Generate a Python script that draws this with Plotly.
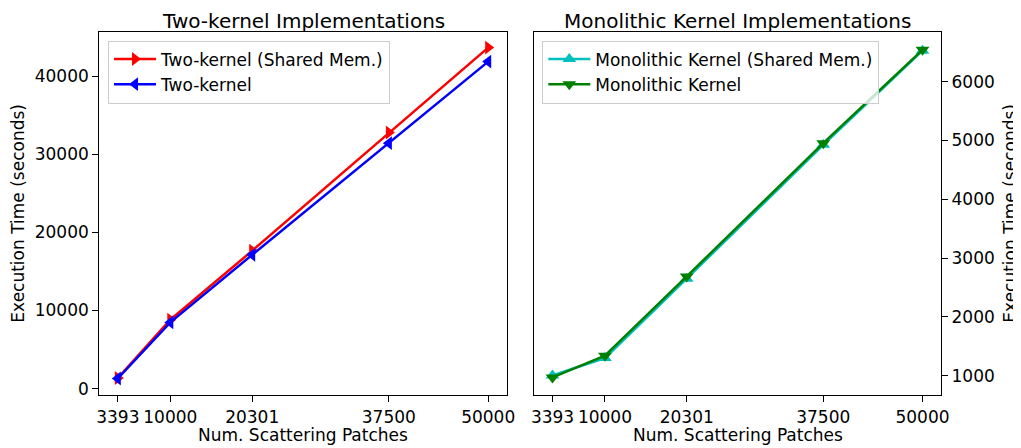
import plotly.graph_objects as go

patches = [3393, 10000, 20301, 37500, 50000]
tick_labels = ["3393", "10000", "20301", "37500", "50000"]

two_kernel_shared = [1370, 8820, 17650, 32780, 43650]
two_kernel = [1300, 8480, 17130, 31420, 41860]

mono_shared = [1005, 1300, 2650, 4925, 6525]
mono = [970, 1340, 2687, 4953, 6540]

FONT = "DejaVu Sans"
OFF = 8  # page body margin
W, H = 1021 - OFF, 448 - OFF
FS = 17

def px_x(p):
    return (p - OFF) / W

def px_y(p):
    return 1 - (p - OFF) / H

fig = go.Figure()

fig.add_trace(go.Scatter(
    x=patches, y=two_kernel_shared, name="Two-kernel (Shared Mem.)",
    mode="lines+markers", line=dict(color="#ff0000", width=2.5),
    marker=dict(symbol="triangle-right", size=12, color="#ff0000"),
    xaxis="x", yaxis="y", legend="legend"))
fig.add_trace(go.Scatter(
    x=patches, y=two_kernel, name="Two-kernel",
    mode="lines+markers", line=dict(color="#0000ff", width=2.5),
    marker=dict(symbol="triangle-left", size=12, color="#0000ff"),
    xaxis="x", yaxis="y", legend="legend"))
fig.add_trace(go.Scatter(
    x=patches, y=mono_shared, name="Monolithic Kernel (Shared Mem.)",
    mode="lines+markers", line=dict(color="#00bfbf", width=2.5),
    marker=dict(symbol="triangle-up", size=12, color="#00bfbf"),
    xaxis="x2", yaxis="y2", legend="legend2"))
fig.add_trace(go.Scatter(
    x=patches, y=mono, name="Monolithic Kernel",
    mode="lines+markers", line=dict(color="#008000", width=2.5),
    marker=dict(symbol="triangle-down", size=12, color="#008000"),
    xaxis="x2", yaxis="y2", legend="legend2"))

axis_common = dict(
    showline=True, linecolor="black", linewidth=1.2, mirror=True,
    ticks="outside", ticklen=6, tickwidth=1.2, tickcolor="black",
    showgrid=False, zeroline=False, automargin=False,
    tickfont=dict(family=FONT, size=FS, color="black"),
)

xdom1 = [px_x(99.3), px_x(506.7)]
xdom2 = [px_x(534), px_x(941)]
ydom = [px_y(395), px_y(32.3)]
ymid = (ydom[0] + ydom[1]) / 2

def text_ann(text, x, y, size=FS, angle=0, yanchor="middle"):
    return dict(text=text, x=x, y=y, xref="paper", yref="paper",
                showarrow=False, xanchor="center", yanchor=yanchor,
                textangle=angle, borderpad=0,
                font=dict(family=FONT, size=size, color="black"))

legend_common = dict(
    xanchor="left", yanchor="top",
    bgcolor="rgba(255,255,255,0.8)", bordercolor="#cccccc",
    borderwidth=1, font=dict(family=FONT, size=FS),
    itemwidth=42, tracegroupgap=0,
)

fig.update_layout(
    width=W, height=H,
    margin=dict(l=0, r=0, t=0, b=0),
    paper_bgcolor="white", plot_bgcolor="white",
    font=dict(family=FONT, size=FS, color="black"),
    showlegend=True,
    xaxis=dict(axis_common, domain=xdom1, range=[1063, 52330],
               tickvals=patches, ticktext=tick_labels, anchor="y"),
    yaxis=dict(axis_common, domain=ydom, range=[-810, 45610],
               tickvals=[0, 10000, 20000, 30000, 40000], tickformat="d",
               anchor="x"),
    xaxis2=dict(axis_common, domain=xdom2, range=[1063, 52330],
                tickvals=patches, ticktext=tick_labels, anchor="y2"),
    yaxis2=dict(axis_common, domain=ydom, range=[672, 6838],
                tickvals=[1000, 2000, 3000, 4000, 5000, 6000], tickformat="d",
                side="right", anchor="x2"),
    legend=dict(legend_common, x=px_x(108), y=px_y(40.5)),
    legend2=dict(legend_common, x=px_x(542.3), y=px_y(40.5)),
    annotations=[
        text_ann("Two-kernel Implementations", (xdom1[0] + xdom1[1]) / 2, 1.0, 20, yanchor="top"),
        text_ann("Monolithic Kernel Implementations", (xdom2[0] + xdom2[1]) / 2, 1.0, 20, yanchor="top"),
        text_ann("Num. Scattering Patches", (xdom1[0] + xdom1[1]) / 2, px_y(435)),
        text_ann("Num. Scattering Patches", (xdom2[0] + xdom2[1]) / 2, px_y(435)),
        text_ann("Execution Time (seconds)", px_x(18), ymid, angle=-90),
        text_ann("Execution Time (seconds)", px_x(1010), ymid, angle=-90),
    ],
)

fig.write_html("out.html")
